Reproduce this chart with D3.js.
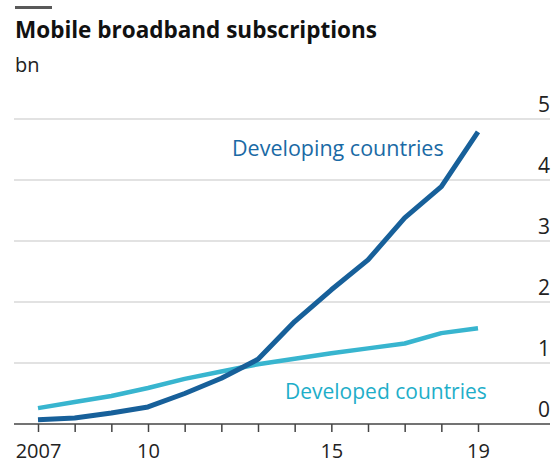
<!DOCTYPE html>
<html>
<head>
<meta charset="utf-8">
<script src="https://cdn.jsdelivr.net/npm/d3@7"></script>
<style>
  body { margin: 0; background: #fff; }
  text { font-family: "Open Sans", sans-serif; }
</style>
</head>
<body>
<script>
// values, bn subscriptions
var years = [2007, 2008, 2009, 2010, 2011, 2012, 2013, 2014, 2015, 2016, 2017, 2018, 2019];
var developing = [0.07, 0.1, 0.18, 0.28, 0.5, 0.75, 1.06, 1.68, 2.2, 2.69, 3.38, 3.89, 4.79];
var developed = [0.26, 0.36, 0.46, 0.59, 0.74, 0.86, 0.98, 1.07, 1.16, 1.24, 1.32, 1.49, 1.57];
var yTicks = [0, 1, 2, 3, 4, 5];
var xLabels = {2007: "2007", 2010: "10", 2015: "15", 2019: "19"};

var width = 555, height = 463;

var svg = d3.select("body").append("svg")
    .attr("width", width)
    .attr("height", height);

var x = d3.scaleLinear().domain([2007, 2019]).range([38, 478]);
var y = d3.scaleLinear().domain([0, 5]).range([424, 119]);

// header
svg.append("rect")
    .attr("x", 15).attr("y", 6)
    .attr("width", 37).attr("height", 3)
    .style("fill", "#595959");

svg.append("text")
    .attr("x", 15).attr("y", 38)
    .style("font-size", "22.5px")
    .style("font-weight", "bold")
    .style("fill", "#111")
    .text("Mobile broadband subscriptions");

svg.append("text")
    .attr("x", 15).attr("y", 72)
    .style("font-size", "20px")
    .style("fill", "#222")
    .text("bn");

// gridlines + right labels
svg.selectAll(".grid")
    .data(yTicks.filter(d => d > 0))
    .enter().append("line")
    .attr("class", "grid")
    .attr("x1", 14).attr("x2", 550)
    .attr("y1", d => y(d)).attr("y2", d => y(d))
    .style("stroke", "#d9d9d9")
    .style("stroke-width", 1.5);

svg.selectAll(".ylab")
    .data(yTicks)
    .enter().append("text")
    .attr("class", "ylab")
    .attr("x", 550)
    .attr("y", d => y(d) - 7)
    .attr("text-anchor", "end")
    .style("font-size", "21px")
    .style("fill", "#222")
    .text(d => d);

// x axis
var xAxis = d3.axisBottom(x)
    .tickValues(years)
    .tickSize(8)
    .tickFormat(d => xLabels[d] || "");

var gx = svg.append("g")
    .attr("transform", "translate(0," + y(0) + ")")
    .call(xAxis);
gx.select(".domain").remove();
gx.selectAll(".tick line").style("stroke", "#444").style("stroke-width", 1.5);
gx.selectAll(".tick text")
    .attr("y", 34)
    .attr("dy", 0)
    .style("font-size", "20px")
    .style("font-family", "'Open Sans', sans-serif")
    .style("fill", "#222");

var line = d3.line()
    .x((d, i) => x(years[i]))
    .y(d => y(d));

svg.append("path")
    .datum(developed)
    .attr("d", line)
    .style("fill", "none")
    .style("stroke", "#38b5cf")
    .style("stroke-width", 4.5)
    .style("stroke-linejoin", "round");

svg.append("path")
    .datum(developing)
    .attr("d", line)
    .style("fill", "none")
    .style("stroke", "#17609a")
    .style("stroke-width", 5)
    .style("stroke-linejoin", "round");

svg.append("line")
    .attr("x1", 14).attr("x2", 550)
    .attr("y1", y(0)).attr("y2", y(0))
    .style("stroke", "#444")
    .style("stroke-width", 1.5);

// series labels
svg.append("text")
    .attr("x", 232).attr("y", 156)
    .style("font-size", "21.5px")
    .style("fill", "#1a6aa5")
    .text("Developing countries");

svg.append("text")
    .attr("x", 285).attr("y", 399)
    .style("font-size", "21px")
    .style("fill", "#1eaec9")
    .text("Developed countries");
</script>
</body>
</html>
